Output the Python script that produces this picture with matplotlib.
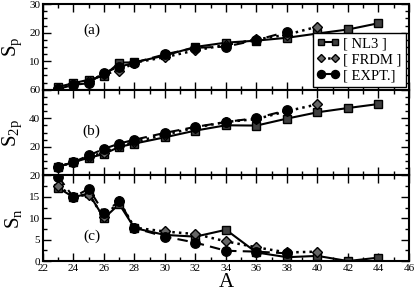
import matplotlib
matplotlib.use("Agg")
import matplotlib.pyplot as plt
from matplotlib.ticker import MultipleLocator, FuncFormatter

plt.rcParams['font.family'] = ['Liberation Serif', 'DejaVu Serif']
plt.rcParams['mathtext.fontset'] = 'custom'
plt.rcParams['mathtext.rm'] = 'Liberation Serif'
plt.rcParams['mathtext.it'] = 'Liberation Serif'

# ---- data ----
A_nl3 = [23, 24, 25, 26, 27, 28, 30, 32, 34, 36, 38, 40, 42, 44]
sp_nl3 = [1.0, 2.3, 3.5, 4.9, 9.5, 9.6, 12.0, 15.0, 16.5, 17.2, 18.2, 19.7, 21.1, 23.3]
s2p_nl3 = [6.0, 9.3, 12.3, 15.0, 20.0, 22.3, 26.7, 31.4, 35.1, 34.9, 39.8, 44.2, 47.2, 50.0]
sn_nl3 = [17.1, 14.9, 15.8, 10.0, 13.3, 7.7, 6.1, 5.7, 7.3, 2.0, 0.9, 1.2, 0.0, 0.8]

A_frdm = [23, 24, 25, 26, 27, 28, 30, 32, 34, 36, 38, 40]
sp_frdm = [0.6, 2.0, 3.0, 5.5, 6.6, 9.5, 11.4, 13.8, 15.7, 17.6, 19.3, 22.1]
s2p_frdm = [6.0, 9.3, 13.0, 16.0, 20.5, 23.5, 28.5, 33.5, 37.4, 39.5, 45.0, 49.8]
sn_frdm = [17.5, 15.0, 15.5, 10.2, 14.0, 7.8, 6.9, 6.3, 4.6, 3.2, 2.0, 2.2]

A_expt = [23, 24, 25, 26, 27, 28, 30, 32, 34, 36, 38]
sp_expt = [0.3, 1.7, 2.3, 6.0, 8.0, 9.5, 12.4, 14.7, 15.1, 17.4, 20.3]
s2p_expt = [6.0, 9.3, 14.0, 18.6, 22.3, 25.0, 29.8, 34.0, 37.4, 40.2, 45.6]
sn_expt = [19.7, 14.9, 16.9, 11.2, 14.0, 7.7, 5.7, 4.3, 2.4, 2.2, 1.8]

labels = ['[ NL3 ]', '[ FRDM ]', '[ EXPT.]']
panel_tags = ['(a)', '(b)', '(c)']
ylabels = [r'S$_{\rm p}$', r'S$_{\rm 2p}$', r'S$_{\rm n}$']
ylims = [(0, 30), (0, 60), (0, 20)]
ymajor = [10, 20, 5]
yminor = [2.5, 5, 2.5]
tag_pos = [(25.2, 21), (25.2, 31), (25.2, 5.8)]

fig = plt.figure(figsize=(4.15, 2.92), dpi=100)
fig.subplots_adjust(left=0.1036, right=0.9855, top=0.986, bottom=0.106, hspace=0)
axes = fig.subplots(3, 1, sharex=True)

series = [
    (sp_nl3, sp_frdm, sp_expt),
    (s2p_nl3, s2p_frdm, s2p_expt),
    (sn_nl3, sn_frdm, sn_expt),
]

def skip_zero(v, pos):
    return '' if abs(v) < 1e-9 else '%g' % v

for i, ax in enumerate(axes):
    nl3, frdm, expt = series[i]
    ax.plot(A_nl3, nl3, '-', color='black', lw=1.5, marker='s', ms=5.8,
            mfc='0.25', mec='black', mew=1.0, label=labels[0])
    ax.plot(A_frdm, frdm, ':', color='black', lw=1.8, marker='D', ms=5,
            mfc='0.4', mec='black', mew=1.0, label=labels[1])
    ax.plot(A_expt, expt, '--', color='black', lw=1.5, marker='o', ms=6.8,
            mfc='black', mec='black', label=labels[2], dashes=(5, 3))
    ax.set_xlim(22, 46)
    ax.set_ylim(*ylims[i])
    ax.xaxis.set_major_locator(MultipleLocator(2))
    ax.xaxis.set_minor_locator(MultipleLocator(1))
    ax.yaxis.set_major_locator(MultipleLocator(ymajor[i]))
    ax.yaxis.set_minor_locator(MultipleLocator(yminor[i]))
    if i < 2:
        ax.yaxis.set_major_formatter(FuncFormatter(skip_zero))
    ax.tick_params(which='both', direction='in', top=True, right=True,
                   labelsize=8, width=1.0, pad=2)
    ax.tick_params(which='major', length=6)
    ax.tick_params(which='minor', length=3)
    for s in ax.spines.values():
        s.set_linewidth(1.5)
    ax.set_ylabel(ylabels[i], fontsize=15, labelpad=4)
    ax.text(tag_pos[i][0], tag_pos[i][1], panel_tags[i], fontsize=11,
            ha='center', va='center')

leg = axes[0].legend(loc='lower right', fontsize=10.5, numpoints=2, handlelength=1.5,
                     frameon=True, fancybox=False, edgecolor='black',
                     borderpad=0.3, labelspacing=0.2, handletextpad=0.3,
                     borderaxespad=0.2, framealpha=1, markerscale=0.85)
leg.get_frame().set_linewidth(1.0)
axes[2].set_xlabel('A', fontsize=15, labelpad=0)

fig.savefig('out.png', dpi=100)
